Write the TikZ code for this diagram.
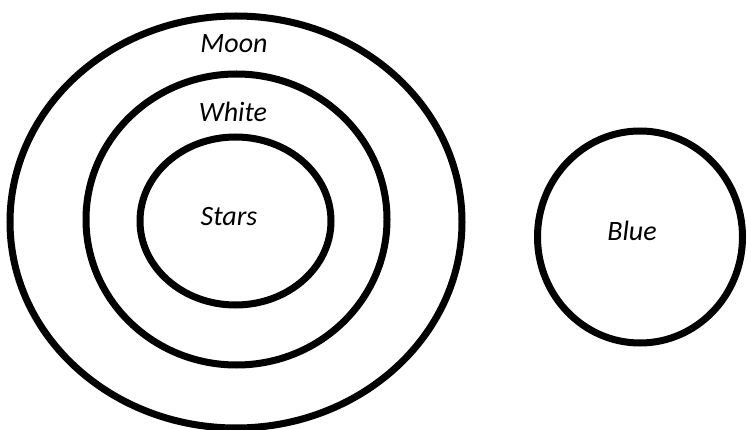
\documentclass[tikz,border=0pt]{standalone}
\usepackage{fontspec}
\setmainfont{Carlito}
\usetikzlibrary{shapes.geometric}
\tikzset{
	ring/.style={draw, ellipse, line width=7pt, inner sep=0pt},
	lbl/.style={font=\fontsize{28}{32}\selectfont\itshape, inner sep=0pt},
}

\begin{document}
\begin{tikzpicture}[x=1pt, y=-1pt]
	\useasboundingbox (0,0) rectangle (747,430);
	\node[ring, minimum width=452pt, minimum height=412pt] at (236.0,222.0) (moon) {};
	\node[ring, minimum width=301pt, minimum height=291pt] at (236.5,219.5) (white) {};
	\node[ring, minimum width=191pt, minimum height=168pt] at (235.5,221.0) (stars) {};
	\node[ring, minimum width=205pt, minimum height=212pt] at (640.0,237.0) (blue) {};
	\node[lbl] at (234,44) (moonlbl) {Moon};
	\node[lbl] at (233,112) (whitelbl) {White};
	\node[lbl] at (229,217) (starslbl) {Stars};
	\node[lbl] at (632,231) (bluelbl) {Blue};
\end{tikzpicture}
\end{document}
